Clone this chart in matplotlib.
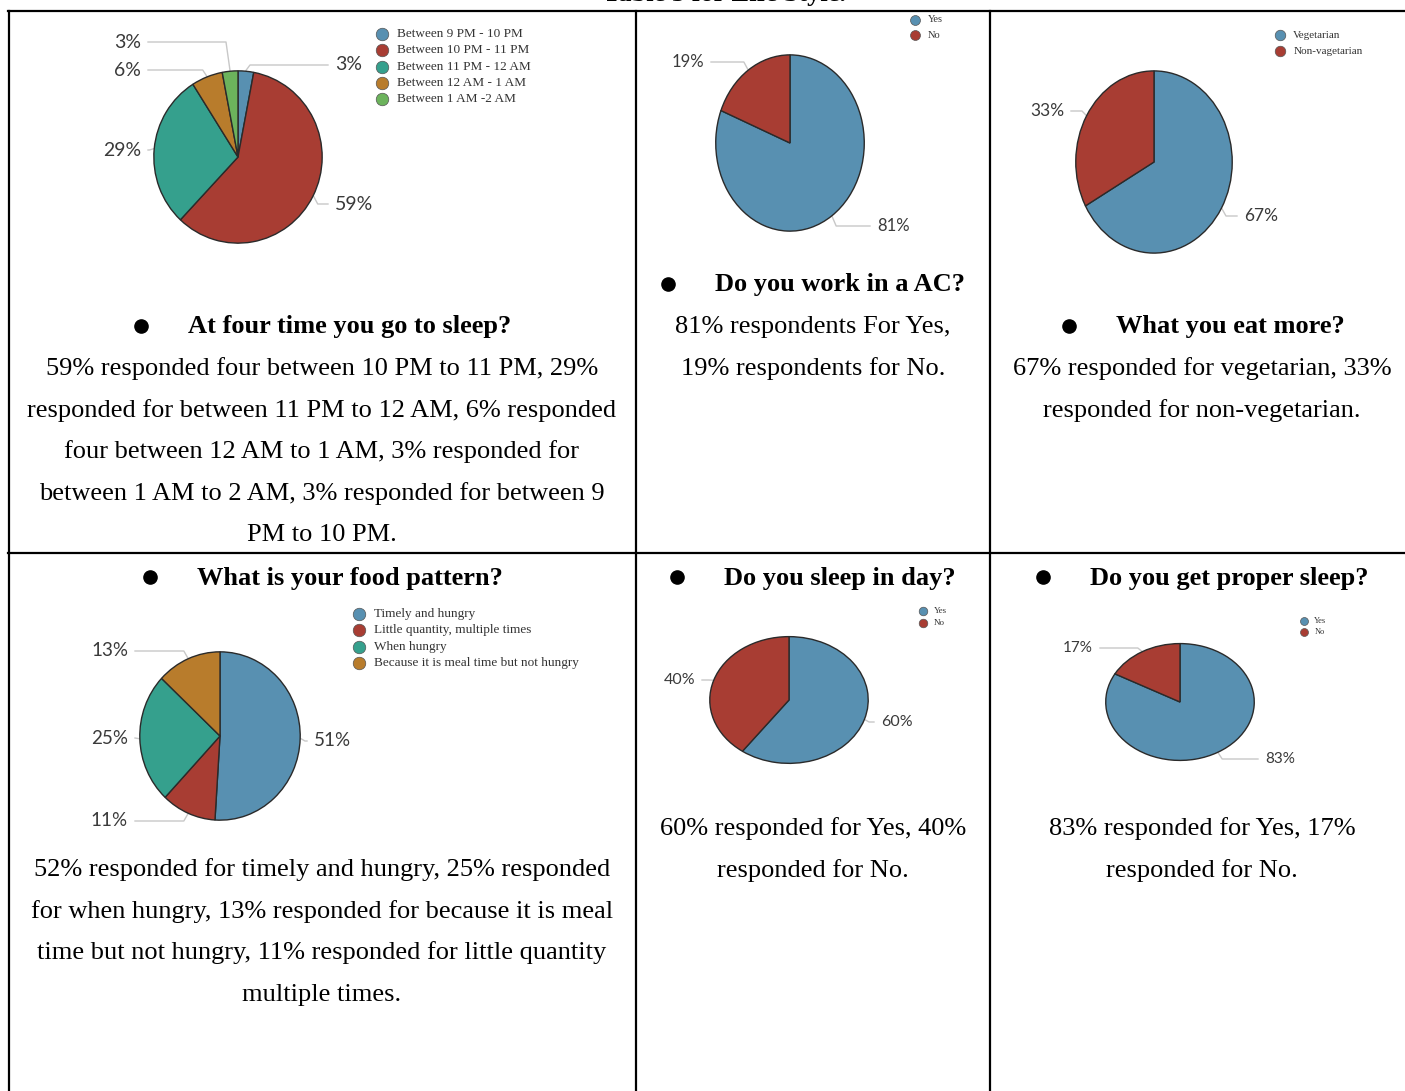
import numpy as np
import matplotlib
matplotlib.use("Agg")
import matplotlib.pyplot as plt

W, H = 1405, 1091

# ---- data ----
sleep_labels = ["Between 9 PM - 10 PM", "Between 10 PM - 11 PM", "Between 11 PM - 12 AM",
                "Between 12 AM - 1 AM", "Between 1 AM -2 AM"]
sleep_values = [3, 59, 29, 6, 3]

ac_labels = ["Yes", "No"]
ac_values = [81, 19]

diet_labels = ["Vegetarian", "Non-vagetarian"]
diet_values = [67, 33]

food_labels = ["Timely and hungry", "Little quantity, multiple times", "When hungry",
               "Because it is meal time but not hungry"]
food_values = [51, 11, 25, 13]

dayslp_labels = ["Yes", "No"]
dayslp_values = [60, 40]

proper_labels = ["Yes", "No"]
proper_values = [83, 17]

colors = ["#5890b1", "#a83d33", "#35a08d", "#b87c2c", "#6cb35c"]

headings = ["At four time you go to sleep?", "Do you work in a AC?", "What you eat more?",
            "What is your food pattern?", "Do you sleep in day?", "Do you get proper sleep?"]
bodies = [
    ["59% responded four between 10 PM to 11 PM, 29%",
     "responded for between 11 PM to 12 AM, 6% responded",
     "four between 12 AM to 1 AM, 3% responded for",
     "between 1 AM to 2 AM, 3% responded for between 9",
     "PM to 10 PM."],
    ["81% respondents For Yes,", "19% respondents for No."],
    ["67% responded for vegetarian, 33%", "responded for non-vegetarian."],
    ["52% responded for timely and hungry, 25% responded",
     "for when hungry, 13% responded for because it is meal",
     "time but not hungry, 11% responded for little quantity",
     "multiple times."],
    ["60% responded for Yes, 40%", "responded for No."],
    ["83% responded for Yes, 17%", "responded for No."],
]

# ---- layout (pixels) ----
# pie ellipse: centre x, centre y, rx, ry
pie_boxes = [(238, 157, 85, 87), (790, 143, 75, 89), (1154, 162, 79, 92),
             (220, 736, 81, 85), (789, 700, 80, 64), (1180, 702, 75, 59)]
# label anchor per wedge: (x of text edge nearest the pie, y, side)
label_pos = [
    [(335, 65, "r"), (335, 204, "r"), (141, 150, "l"), (141, 70, "l"), (141, 42, "l")],
    [(877, 226, "r"), (704, 62, "l")],
    [(1244, 216, "r"), (1064, 111, "l")],
    [(314, 741, "r"), (128, 821, "l"), (128, 738, "l"), (128, 651, "l")],
    [(881, 722, "r"), (695, 680, "l")],
    [(1265, 759, "r"), (1093, 648, "l")],
]
label_size = [14, 12, 12.5, 13.5, 11.5, 11]
# legend: marker x, first row y, row step, font size
legend_pos = [(382, 34, 16.3, 9.5), (915, 20, 15, 7.5), (1280, 35, 16, 8),
              (359, 614, 16.3, 9.5), (923, 611, 12, 6.5), (1304, 621, 10.5, 6)]
# heading: bullet x, text x, y ; body: centre x, first line y
head_pos = [(141, 188, 327), (668, 715, 285), (1069, 1116, 327),
            (150, 197, 578), (677, 724, 578), (1043, 1090, 578)]
body_pos = [(322, 369), (813, 327), (1202, 369), (322, 870), (813, 829), (1202, 829)]
line_step = 41.5

serif = ["Liberation Serif", "DejaVu Serif"]
sans = ["Lato", "DejaVu Sans"]

fig = plt.figure(figsize=(W / 100, H / 100), dpi=100)
ax = fig.add_axes([0, 0, 1, 1])
ax.set_xlim(0, W)
ax.set_ylim(H, 0)
ax.axis("off")

# table grid
lw = 1.6
ax.plot([8, W], [11, 11], color="black", lw=lw)
ax.plot([8, W], [553, 553], color="black", lw=lw)
for x in [9, 636, 990]:
    ax.plot([x, x], [11, H], color="black", lw=lw)

# title sits mostly above the top edge, as in the scanned page
ax.text(724, 1.5, "Table 3 for Life Style.", family=serif, fontsize=19, fontweight="bold",
        ha="center", va="baseline")

all_labels = [sleep_labels, ac_labels, diet_labels, food_labels, dayslp_labels, proper_labels]
all_values = [sleep_values, ac_values, diet_values, food_values, dayslp_values, proper_values]

for k in range(6):
    cx, cy, rx, ry = pie_boxes[k]
    pax = fig.add_axes([(cx - rx) / W, 1 - (cy + ry) / H, 2 * rx / W, 2 * ry / H])
    vals = all_values[k]
    wedges, _ = pax.pie(vals, colors=colors[:len(vals)], startangle=90, counterclock=False,
                        wedgeprops=dict(edgecolor="#2a2a2a", linewidth=1.0))
    pax.set_aspect("auto")
    pax.set_xlim(-1.01, 1.01)
    pax.set_ylim(-1.01, 1.01)

    # labels with leader lines
    for w, v, (lx, ly, side) in zip(wedges, vals, label_pos[k]):
        th = np.deg2rad((w.theta1 + w.theta2) / 2)
        ex, ey = cx + rx * np.cos(th), cy - ry * np.sin(th)
        if side == "r":
            ax.plot([ex, ex + 4, lx - 7], [ey, ly, ly], color="#c8c8c8", lw=1)
            ax.text(lx, ly, f"{v}%", family=sans, fontsize=label_size[k],
                    color="#3a3a3a", ha="left", va="center")
        else:
            ax.plot([ex, ex - 4, lx + 7], [ey, ly, ly], color="#c8c8c8", lw=1)
            ax.text(lx, ly, f"{v}%", family=sans, fontsize=label_size[k],
                    color="#3a3a3a", ha="right", va="center")

    # legend
    mx, my, step, fs = legend_pos[k]
    for i, lab in enumerate(all_labels[k]):
        yy = my + i * step
        ax.plot(mx, yy, "o", ms=fs * 0.95, color=colors[i], mec="#555555", mew=0.5)
        ax.text(mx + fs * 1.4 + 2, yy, lab, family=serif, fontsize=fs, color="#333333",
                ha="left", va="center")

    # heading and body
    bxp, hx, hy = head_pos[k]
    ax.plot(bxp, hy - 1, "o", ms=9.5, color="black")
    ax.text(hx, hy, headings[k], family=serif, fontsize=19, fontweight="bold",
            ha="left", va="center")
    bcx, by = body_pos[k]
    for j, line in enumerate(bodies[k]):
        ax.text(bcx, by + j * line_step, line, family=serif, fontsize=19,
                ha="center", va="center")

fig.savefig("out.png", dpi=100)
